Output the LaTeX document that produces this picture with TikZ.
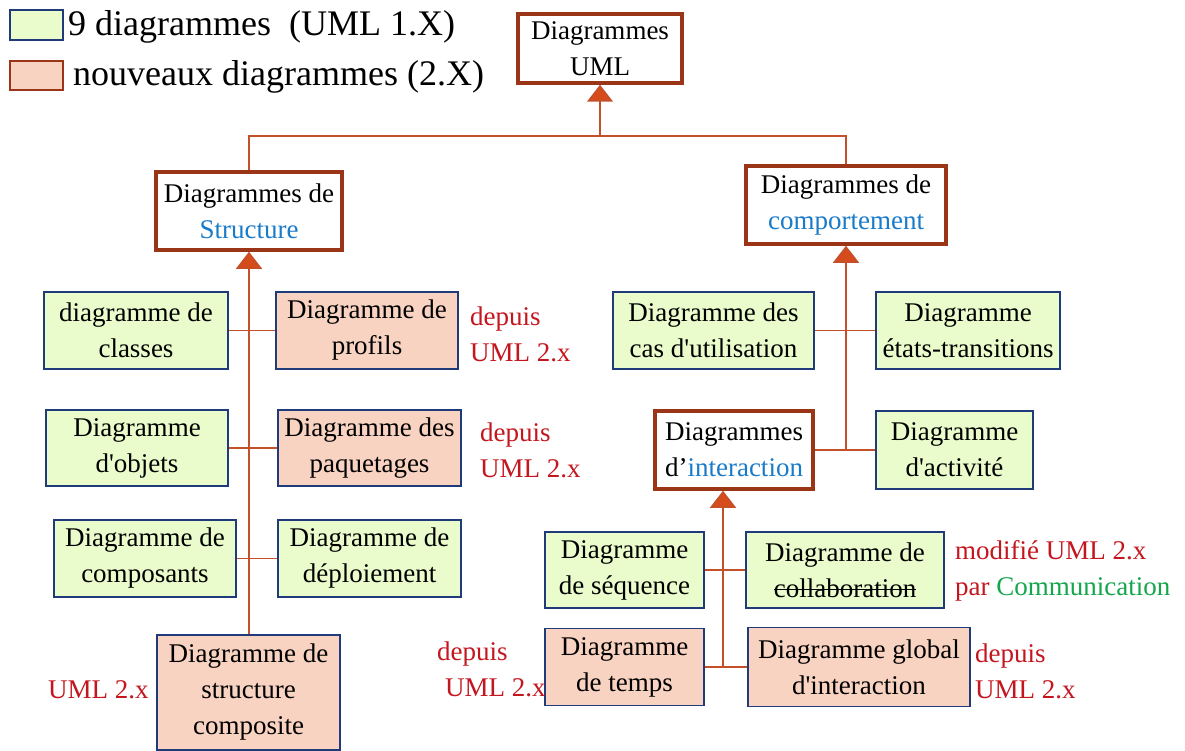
\documentclass[tikz,border=0pt]{standalone}
\usepackage{fontspec}
\setmainfont{Liberation Serif}[Ligatures=TeXOff]
\usetikzlibrary{arrows.meta}

\definecolor{oldfill}{HTML}{EAFCCB}
\definecolor{newfill}{HTML}{F9D3C1}
\definecolor{navy}{HTML}{1F3B7A}
\definecolor{frame}{HTML}{9B3517}
\definecolor{linkc}{HTML}{C4502A}
\definecolor{tri}{HTML}{D64B1B}
\definecolor{notered}{HTML}{C4161E}
\definecolor{kindblue}{HTML}{1A7BC9}
\definecolor{commgreen}{HTML}{14A64C}

% struck-through word
\newcommand\struckword[1]{\setbox0=\hbox{#1}\rlap{\copy0}\rule[0.27em]{\wd0}{1.3pt}}

\begin{document}
\begin{tikzpicture}[x=1pt,y=-1pt,
  box/.style={draw=navy, line width=1.2pt, align=center, inner sep=0pt,
              font=\fontsize{27}{36}\selectfont,
              execute at begin node={\rule{0pt}{26pt}}},
  oldbox/.style={box, fill=oldfill},
  newbox/.style={box, fill=newfill},
  groupbox/.style={box, draw=frame, line width=3.5pt, fill=white},
  link/.style={draw=linkc, line width=1.5pt},
  gen/.style={link, -{Triangle[width=26pt,length=17pt,fill=tri]}},
  note/.style={text=notered, anchor=west, align=left, inner sep=0pt,
               font=\fontsize{27}{36}\selectfont},
  legend/.style={anchor=base west, inner sep=0pt, font=\fontsize{36}{40}\selectfont}
]
\useasboundingbox (0,0) rectangle (1185,751);

% legend
\node[draw=navy, line width=1.2pt, fill=oldfill, minimum width=53pt, minimum height=30pt, inner sep=0pt] (lgold) at (36.5,25) {};
\node[draw=frame, line width=1.2pt, fill=newfill, minimum width=53pt, minimum height=29pt, inner sep=0pt] (lgnew) at (36.5,75.5) {};
\node[legend] (lgoldtxt) at (68,36) {9 diagrammes\ \ (UML 1.X)};
\node[legend] (lgnewtxt) at (73,86) {nouveaux diagrammes (2.X)};

% root and the two families
\node[groupbox, minimum width=164pt, minimum height=69pt] (uml) at (600,48.5) {Diagrammes\\UML};
\node[groupbox, minimum width=186pt, minimum height=78pt] (struct) at (249,211) {Diagrammes de\\\textcolor{kindblue}{Structure}};
\node[groupbox, minimum width=200pt, minimum height=78pt] (behav) at (846,205) {Diagrammes de\\\textcolor{kindblue}{comportement}};

% structure diagrams
\node[oldbox, minimum width=184pt, minimum height=77pt] (classes) at (136,330.5) {diagramme de\\classes};
\node[newbox, minimum width=182pt, minimum height=77pt] (profils) at (367,330.5) {Diagramme de\\profils};
\node[oldbox, minimum width=182pt, minimum height=76pt] (objets) at (137,448) {Diagramme\\d'objets};
\node[newbox, minimum width=183pt, minimum height=76pt] (paquets) at (369.5,448) {Diagramme des\\paquetages};
\node[oldbox, minimum width=182pt, minimum height=77pt] (composants) at (145,558.5) {Diagramme de\\composants};
\node[oldbox, minimum width=183pt, minimum height=77pt] (deploi) at (369.5,558.5) {Diagramme de\\déploiement};
\node[newbox, minimum width=183pt, minimum height=115pt] (composite) at (248.5,692.5) {Diagramme de\\structure\\composite};

% behaviour diagrams
\node[oldbox, minimum width=201pt, minimum height=77pt] (cas) at (713.5,330.5) {Diagramme des\\cas d'utilisation};
\node[oldbox, minimum width=184pt, minimum height=77pt] (etats) at (968,330.5) {Diagramme\\états-transitions};
\node[groupbox, minimum width=158pt, minimum height=78pt] (inter) at (734,450) {Diagrammes\\d’\textcolor{kindblue}{interaction}};
\node[oldbox, minimum width=157pt, minimum height=78pt] (activ) at (954.5,450) {Diagramme\\d'activité};

% interaction diagrams
\node[oldbox, minimum width=159pt, minimum height=76pt] (seq) at (624.5,570) {Diagramme\\de séquence};
\node[oldbox, minimum width=198pt, minimum height=76pt] (collab) at (845,570) {Diagramme de\\\struckword{collaboration}};
\node[newbox, minimum width=159pt, minimum height=77pt] (temps) at (624.5,667) {Diagramme\\de temps};
\node[newbox, minimum width=222pt, minimum height=79pt] (global) at (859,667) {Diagramme global\\d'interaction};

% version notes
\node[note] (n1) at (470,334) {depuis\\UML 2.x};
\node[note] (n2) at (480,450) {depuis\\UML 2.x};
\node[note] (n3) at (48,690) {UML 2.x};
\node[note] (n4) at (437,669) {depuis\\\hspace*{8pt}UML 2.x};
\node[note] (n5) at (975,671) {depuis\\UML 2.x};
\node[note] (n6) at (955,571) {modifié UML 2.x\\par \textcolor{commgreen}{Communication}};

% root generalisation
\coordinate (topjoin) at (600,136);
\draw[link] (struct.north) |- (topjoin) -| (behav.north);
\draw[gen] (topjoin) -- (uml.south);

% structure tree
\draw[gen] (composite.north -| struct.south) -- (struct.south);
\draw[link] (classes.east) -- (profils.west);
\draw[link] (objets.east) -- (paquets.west);
\draw[link] (composants.east) -- (deploi.west);

% behaviour tree
\draw[link] (cas.east) -- (etats.west);
\draw[link] (inter.east) -- (activ.west);
\draw[gen] (inter.east -| behav.south) -- (behav.south);

% interaction tree
\coordinate (interfoot) at ([xshift=-11pt]inter.south);
\draw[link] (seq.east) -- (collab.west);
\draw[link] (temps.east) -- (global.west);
\draw[gen] (temps.east -| interfoot) -- (interfoot);
\end{tikzpicture}
\end{document}
